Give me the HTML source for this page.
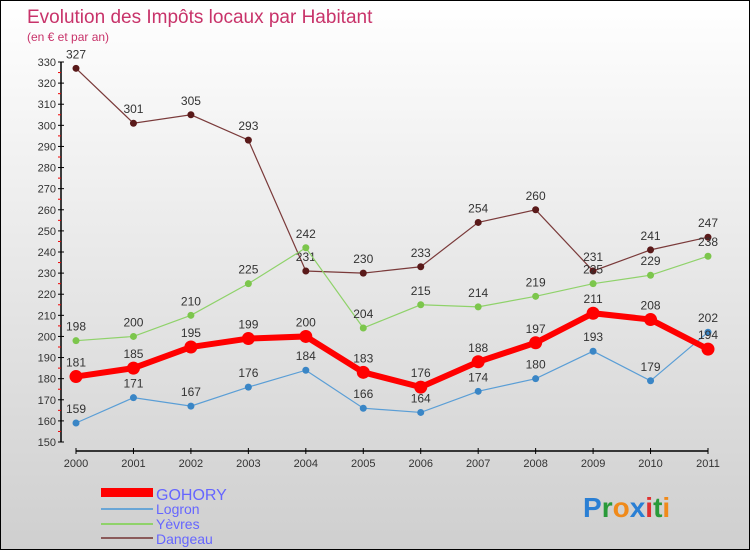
<!DOCTYPE html>
<html><head><meta charset="utf-8"><style>
body{margin:0}
#c{width:750px;height:550px;position:relative;box-sizing:border-box;border:1px solid #000;background:linear-gradient(#ffffff,#cfcfcf);font-family:"Liberation Sans",sans-serif;overflow:hidden}
</style></head><body>
<div id="c">
<svg id="s" width="750" height="550" style="position:absolute;left:0;top:0">
<text x="26" y="22" font-size="19" fill="#c8336a">Evolution des Impôts locaux par Habitant</text>
<text x="26" y="40" font-size="12" fill="#c8336a">(en € et par an)</text>
<g id="ax"></g><g id="series"></g>
<g>
<rect x="100" y="487" width="52" height="9" fill="#f00"/>
<text x="155" y="499" font-size="16" fill="#6666ff">GOHORY</text>
<line x1="100" y1="508" x2="152" y2="508" stroke="#6aa6d6" stroke-width="2"/>
<text x="155" y="513" font-size="14" fill="#6666ff">Logron</text>
<line x1="100" y1="523" x2="152" y2="523" stroke="#8fd26a" stroke-width="2"/>
<text x="155" y="528" font-size="14" fill="#6666ff">Yèvres</text>
<line x1="100" y1="537" x2="152" y2="537" stroke="#8a5a5a" stroke-width="2"/>
<text x="155" y="543" font-size="14" fill="#6666ff">Dangeau</text>
</g>
<text x="582" y="516" font-size="28" font-weight="bold"><tspan fill="#2a7fd4">P</tspan><tspan fill="#2a9a3a">r</tspan><tspan fill="#f08a1a">o</tspan><tspan fill="#2a7fd4">x</tspan><tspan fill="#e03030">i</tspan><tspan fill="#2a9a3a">t</tspan><tspan fill="#f08a1a">i</tspan></text>
</svg>
</div>
<script>
const years=[2000,2001,2002,2003,2004,2005,2006,2007,2008,2009,2010,2011];
const gohory=[181,185,195,199,200,183,176,188,197,211,208,194];
const logron=[159,171,167,176,184,166,164,174,180,193,179,202];
const yevres=[198,200,210,225,242,204,215,214,219,225,229,238];
const dangeau=[327,301,305,293,231,230,233,254,260,231,241,247];
const yTicks=[150,160,170,180,190,200,210,220,230,240,250,260,270,280,290,300,310,320,330];
const NS="http://www.w3.org/2000/svg";
const X=i=>75+i*(707-75)/(years.length-1);
const Y=v=>441-(v-150)*(380/180);
function mk(t,a,p){const e=document.createElementNS(NS,t);for(const k in a)e.setAttribute(k,a[k]);p.appendChild(e);return e;}
const ax=document.getElementById('ax');
const yl=mk('line',{x1:60,y1:Y(330),x2:60,y2:Y(150),stroke:'#000','stroke-width':1.5},ax);


yTicks.forEach(v=>{
 mk('line',{x1:57,y1:Y(v),x2:63,y2:Y(v),stroke:'#000'},ax);
 if(v<330)mk('line',{x1:57,y1:Y(v+5),x2:60,y2:Y(v+5),stroke:'#e00'},ax);
 const t=mk('text',{x:55,y:Y(v)+4,'font-size':11,fill:'#333','text-anchor':'end'},ax);t.textContent=v;
 
 
});
const xl=mk('line',{x1:75,y1:450,x2:707,y2:450,stroke:'#000','stroke-width':1.5},ax);


years.forEach((y,i)=>{
 mk('line',{x1:X(i),y1:447,x2:X(i),y2:453,stroke:'#000'},ax);
 const t=mk('text',{x:X(i),y:466,'font-size':11,fill:'#333','text-anchor':'middle'},ax);t.textContent=y;
 
 
});
const sg=document.getElementById('series');
function draw(name,vals,col,dot,w,r){
 const g=mk('g',{},sg);
 
 
 mk('polyline',{points:vals.map((v,i)=>X(i)+','+Y(v)).join(' '),fill:'none',stroke:col,'stroke-width':w},g);
 vals.forEach((v,i)=>{
  const c=mk('circle',{cx:X(i),cy:Y(v),r:r,fill:dot},g);
  
  
  const t=mk('text',{x:X(i),y:Y(v)-10,'font-size':12,fill:'#333','text-anchor':'middle'},g);t.textContent=v;
  
  
 });
}
draw('dangeau',dangeau,'#7a3a3a','#5a1a1a',1.2,3.5);
draw('yevres',yevres,'#8fd26a','#7cc64c',1.2,3.5);
draw('logron',logron,'#5a9ed6','#3a86c6',1.2,3.5);
draw('gohory',gohory,'#f00','#f00',6,6.5);
</script>
</body></html>
